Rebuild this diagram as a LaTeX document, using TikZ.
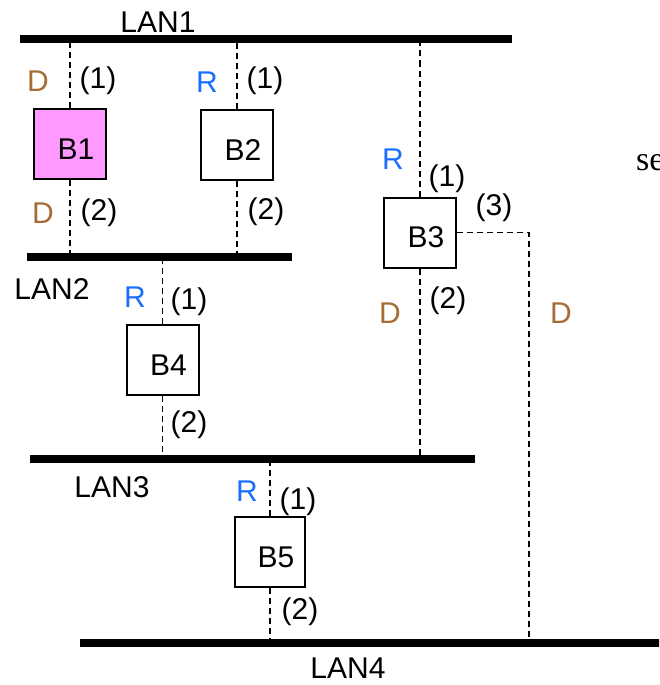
\documentclass[tikz,border=0pt]{standalone}
\usepackage{fontspec}
\setmainfont{Liberation Sans}
\newfontfamily\serifface{Liberation Serif}
\usetikzlibrary{calc}
\definecolor{desigc}{HTML}{A86B35}
\definecolor{rootc}{HTML}{1A6EFF}
\definecolor{pinkfill}{HTML}{FF99FF}

\begin{document}
\begin{tikzpicture}[x=1pt,y=-1pt,
  every node/.style={font=\fontsize{30}{36}\selectfont,inner sep=0pt},
  lan/.style={line width=8pt},
  link/.style={line width=1.5pt,dash pattern=on 6pt off 4pt},
  bridge/.style={draw,line width=2pt,fill=white,minimum width=72pt,minimum height=70pt},
  desig/.style={text=desigc},
  root/.style={text=rootc}]
  \useasboundingbox (0,0) rectangle (659,685);
  \clip (0,0) rectangle (659,685);
  % LAN segments (end points)
  \coordinate (l1w) at (20,39);  \coordinate (l1e) at (512,39);
  \coordinate (l2w) at (27,257); \coordinate (l2e) at (292,257);
  \coordinate (l3w) at (30,459); \coordinate (l3e) at (475,459);
  \coordinate (l4w) at (80,643); \coordinate (l4e) at (670,643);
  \coordinate (p3) at (529,643);
  % bridges
  \node[bridge,fill=pinkfill] (b1) at (70,144) {};
  \node[bridge] (b2) at (237,145) {};
  \node[bridge] (b3) at (420,232.5) {};
  \node[bridge] (b4) at (162.5,360) {};
  \node[bridge,minimum width=70pt] (b5) at (270,552) {};
  \foreach \b in {1,...,5}
    \node (b\b txt) at ([shift={(6,5)}]b\b) {B\b};
  % links to the LANs
  \draw[link] (b1.north) -- (b1.north |- l1w);
  \draw[link] (b1.south) -- (b1.south |- l2w);
  \draw[link] (b2.north) -- (b2.north |- l1w);
  \draw[link] (b2.south) -- (b2.south |- l2w);
  \draw[link] (b3.north) -- (b3.north |- l1w);
  \draw[link] (b3.south) -- (b3.south |- l3w);
  \draw[link] (b3.east) -| (p3);
  \draw[link] (b4.north) -- (b4.north |- l2w);
  \draw[link] (b4.south) -- (b4.south |- l3w);
  \draw[link] (b5.north) -- (b5.north |- l3w);
  \draw[link] (b5.south) -- (b5.south |- l4w);
  % LAN bars
  \draw[lan] (l1w) -- (l1e);
  \draw[lan] (l2w) -- (l2e);
  \draw[lan] (l3w) -- (l3e);
  \draw[lan] (l4w) -- (l4e);
  \node (lan1lbl) at (158,22) {LAN1};
  \node (lan2lbl) at (52,289) {LAN2};
  \node (lan3lbl) at (112,487) {LAN3};
  \node (lan4lbl) at (348,668) {LAN4};
  % port labels
  \node[desig] (b1d1) at (38,81) {D};   \node (b1p1) at (98,81) {(1)};
  \node[desig] (b1d2) at (43,213) {D};  \node (b1p2) at (99,213) {(2)};
  \node[root] (b2r1) at (207,82) {R};   \node (b2p1) at (265,81) {(1)};
  \node (b2p2) at (266,212) {(2)};
  \node[root] (b3r1) at (393,159) {R};  \node (b3p1) at (447,179) {(1)};
  \node (b3p3) at (494,208) {(3)};
  \node[desig] (b3d2) at (390,313) {D}; \node (b3p2) at (448,301) {(2)};
  \node[desig] (b3d3) at (561,313) {D};
  \node[root] (b4r1) at (135,297) {R};  \node (b4p1) at (189,302) {(1)};
  \node (b4p2) at (189,425) {(2)};
  \node[root] (b5r1) at (247,491) {R};  \node (b5p1) at (298,502) {(1)};
  \node (b5p2) at (300,612) {(2)};
  % cut-off text at the right edge
  \node[font=\serifface\fontsize{34}{40}\selectfont,anchor=base west] (seetxt) at (636,170) {se};
\end{tikzpicture}
\end{document}
